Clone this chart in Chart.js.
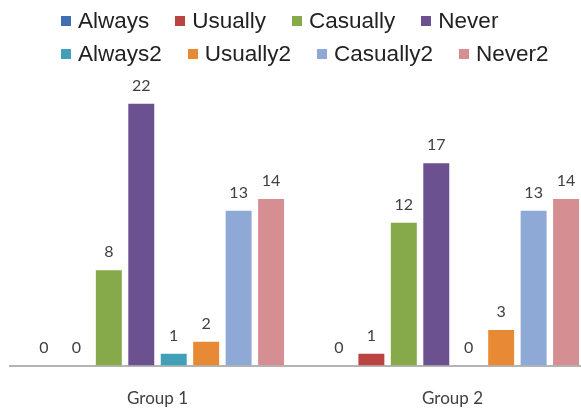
<!DOCTYPE html>
<html>
<head>
<meta charset="utf-8">
<script src="https://cdn.jsdelivr.net/npm/chart.js@4.4.1/dist/chart.umd.min.js"></script>
<style>
  html, body { margin: 0; padding: 0; background: #ffffff; overflow: hidden; }
  #wrap { position: relative; width: 581px; height: 412px; overflow: hidden; }
  #chart { position: absolute; left: 0; top: 0; }
  #legend { position: absolute; left: 61px; top: 4px; font-family: "Liberation Sans", Arial, sans-serif;
            font-size: 22.5px; color: #222222; }
  .row { display: flex; align-items: center; height: 33px; white-space: nowrap; }
  .item { display: flex; align-items: center; margin-right: 26px; }
  .box { width: 10px; height: 10px; margin-right: 7px; }
</style>
</head>
<body>
<div id="wrap">
  <canvas id="chart" width="605" height="438"></canvas>
  <div id="legend"></div>
</div>
<script>
// Categories and series
const groups = ["Group 1", "Group 2"];
const seriesNames = ["Always", "Usually", "Casually", "Never", "Always2", "Usually2", "Casually2", "Never2"];
const always    = [0, 0];
const usually   = [0, 1];
const casually  = [8, 12];
const never     = [22, 17];
const always2   = [1, 0];
const usually2  = [2, 3];
const casually2 = [13, 13];
const never2    = [14, 14];
const seriesColors = ["#3f6fb2", "#b94441", "#86a94a", "#6c5190", "#41a0b8", "#e88a35", "#8ea9d5", "#d58e91"];

const seriesValues = [always, usually, casually, never, always2, usually2, casually2, never2];

const datasets = seriesNames.map((name, i) => ({
  label: name,
  data: seriesValues[i],
  backgroundColor: seriesColors[i],
  borderWidth: 0,
  barPercentage: 0.8,
  categoryPercentage: 0.88
}));

// Value labels above each bar
const valueLabels = {
  id: "valueLabels",
  afterDatasetsDraw(chart) {
    const ctx = chart.ctx;
    ctx.save();
    ctx.font = "16px Lato, 'Open Sans', sans-serif";
    ctx.fillStyle = "#404040";
    ctx.textAlign = "center";
    ctx.textBaseline = "alphabetic";
    chart.data.datasets.forEach((ds, di) => {
      const meta = chart.getDatasetMeta(di);
      meta.data.forEach((bar, idx) => {
        ctx.fillText(String(ds.data[idx]), bar.x, bar.y - 13);
      });
    });
    ctx.restore();
  }
};

const chart = new Chart(document.getElementById("chart"), {
  type: "bar",
  data: { labels: groups, datasets },
  options: {
    responsive: false,
    devicePixelRatio: 1,
    animation: false,
    layout: { padding: { top: 68, left: 10, right: 5, bottom: 6 } },
    plugins: {
      legend: { display: false },
      tooltip: { enabled: false }
    },
    scales: {
      x: {
        grid: { display: false, drawTicks: false },
        border: { display: true, color: "#b4b4b4", width: 2 },
        ticks: { color: "#404040", font: { family: "Lato, 'Open Sans', sans-serif", size: 17 }, padding: 23 }
      },
      y: {
        display: false,
        min: 0,
        max: 25
      }
    }
  },
  plugins: [valueLabels]
});

// Legend built from the chart's datasets, two rows of four
const legend = document.getElementById("legend");
const rows = [chart.data.datasets.slice(0, 4), chart.data.datasets.slice(4)];
rows.forEach(rowSets => {
  const row = document.createElement("div");
  row.className = "row";
  rowSets.forEach(ds => {
    const item = document.createElement("div");
    item.className = "item";
    const box = document.createElement("span");
    box.className = "box";
    box.style.background = ds.backgroundColor;
    const txt = document.createElement("span");
    txt.textContent = ds.label;
    item.appendChild(box);
    item.appendChild(txt);
    row.appendChild(item);
  });
  legend.appendChild(row);
});
</script>
</body>
</html>
